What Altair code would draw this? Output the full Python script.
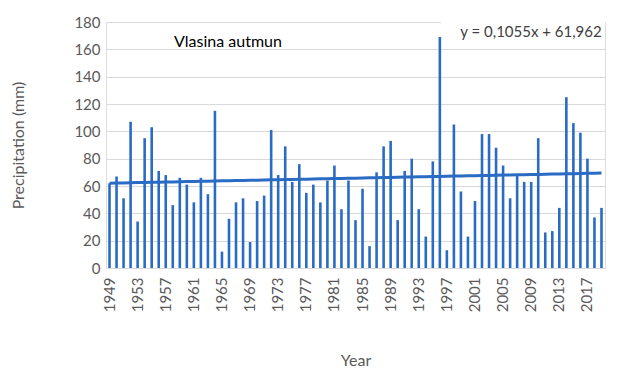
import altair as alt
import pandas as pd

years = list(range(1949, 2020))
precip = [62, 67, 51, 107, 34, 95, 103, 71, 68, 46,
          66, 61, 48, 66, 54, 115, 12, 36, 48, 51,
          19, 49, 53, 101, 68, 89, 63, 76, 55, 61,
          48, 64, 75, 43, 64, 35, 58, 16, 70, 89,
          93, 35, 71, 80, 43, 23, 78, 169, 13, 105,
          56, 23, 49, 98, 98, 88, 75, 51, 68, 63,
          63, 95, 26, 27, 44, 125, 106, 99, 80, 37,
          44]
tick_years = list(range(1949, 2018, 4))
y_ticks = list(range(0, 181, 20))
SLOPE = 0.1055
INTERCEPT = 61.962
title_text = "Vlasina autmun"
eq_text = "y = 0,1055x + 61,962"

df = pd.DataFrame({"year": years, "precip": precip})

BLUE = "#2A6BC4"
FONT = "Lato"
GRAY = "#595959"
W, H = 499, 246

x_axis = alt.Axis(
    values=tick_years, labelAngle=270, labelFontSize=15, labelColor=GRAY,
    labelFont=FONT, ticks=False, domainColor="#d9d9d9", labelPadding=9,
    labelOverlap=False,
    titleFont=FONT, titleFontSize=16, titleColor=GRAY, titleFontWeight="normal",
    titlePadding=41,
)
y_axis = alt.Axis(
    values=y_ticks, labelFontSize=15, labelColor=GRAY, labelFont=FONT,
    ticks=False, domain=False, gridColor="#d9d9d9", labelPadding=6,
    labelOverlap=False,
    titleFont=FONT, titleFontSize=16, titleColor=GRAY, titleFontWeight="normal",
    titlePadding=47,
)
x_scale = alt.Scale(paddingInner=0, paddingOuter=0)
y_scale = alt.Scale(domain=[0, 180], nice=False)

base = alt.Chart(df)

box = base.mark_rect(color="white").encode(
    x=alt.value(335), x2=alt.value(W), y=alt.value(-8), y2=alt.value(22)
)

bars = base.mark_bar(size=2.6, color=BLUE).encode(
    x=alt.X("year:O", scale=x_scale, axis=x_axis, title="Year"),
    y=alt.Y("precip:Q", scale=y_scale, axis=y_axis, title="Precipitation (mm)"),
)

trend = base.transform_calculate(
    trend=f"{SLOPE}*(datum.year-1948)+{INTERCEPT}"
).mark_line(color=BLUE, strokeWidth=3).encode(
    x=alt.X("year:O", scale=x_scale, axis=x_axis, title="Year"),
    y=alt.Y("trend:Q", scale=y_scale, axis=y_axis, title="Precipitation (mm)"),
)

title_df = pd.DataFrame({"t": [title_text]})
eq_df = pd.DataFrame({"t": [eq_text]})

title_mark = alt.Chart(title_df).mark_text(
    font=FONT, fontSize=16, color="black", align="center", baseline="middle"
).encode(text="t:N", x=alt.value(122), y=alt.value(20))

eq_mark = alt.Chart(eq_df).mark_text(
    font=FONT, fontSize=15, color="#404040", align="center", baseline="middle"
).encode(text="t:N", x=alt.value(425), y=alt.value(10))

chart = alt.layer(box, bars, trend, title_mark, eq_mark).properties(
    width=W, height=H,
    autosize=alt.AutoSizeParams(type="none"),
    padding={"left": 98, "top": 14, "right": 10, "bottom": 105},
).configure_view(stroke=None).configure(background="white")

chart.save("out.html", embed_options={"renderer": "svg", "actions": False})
